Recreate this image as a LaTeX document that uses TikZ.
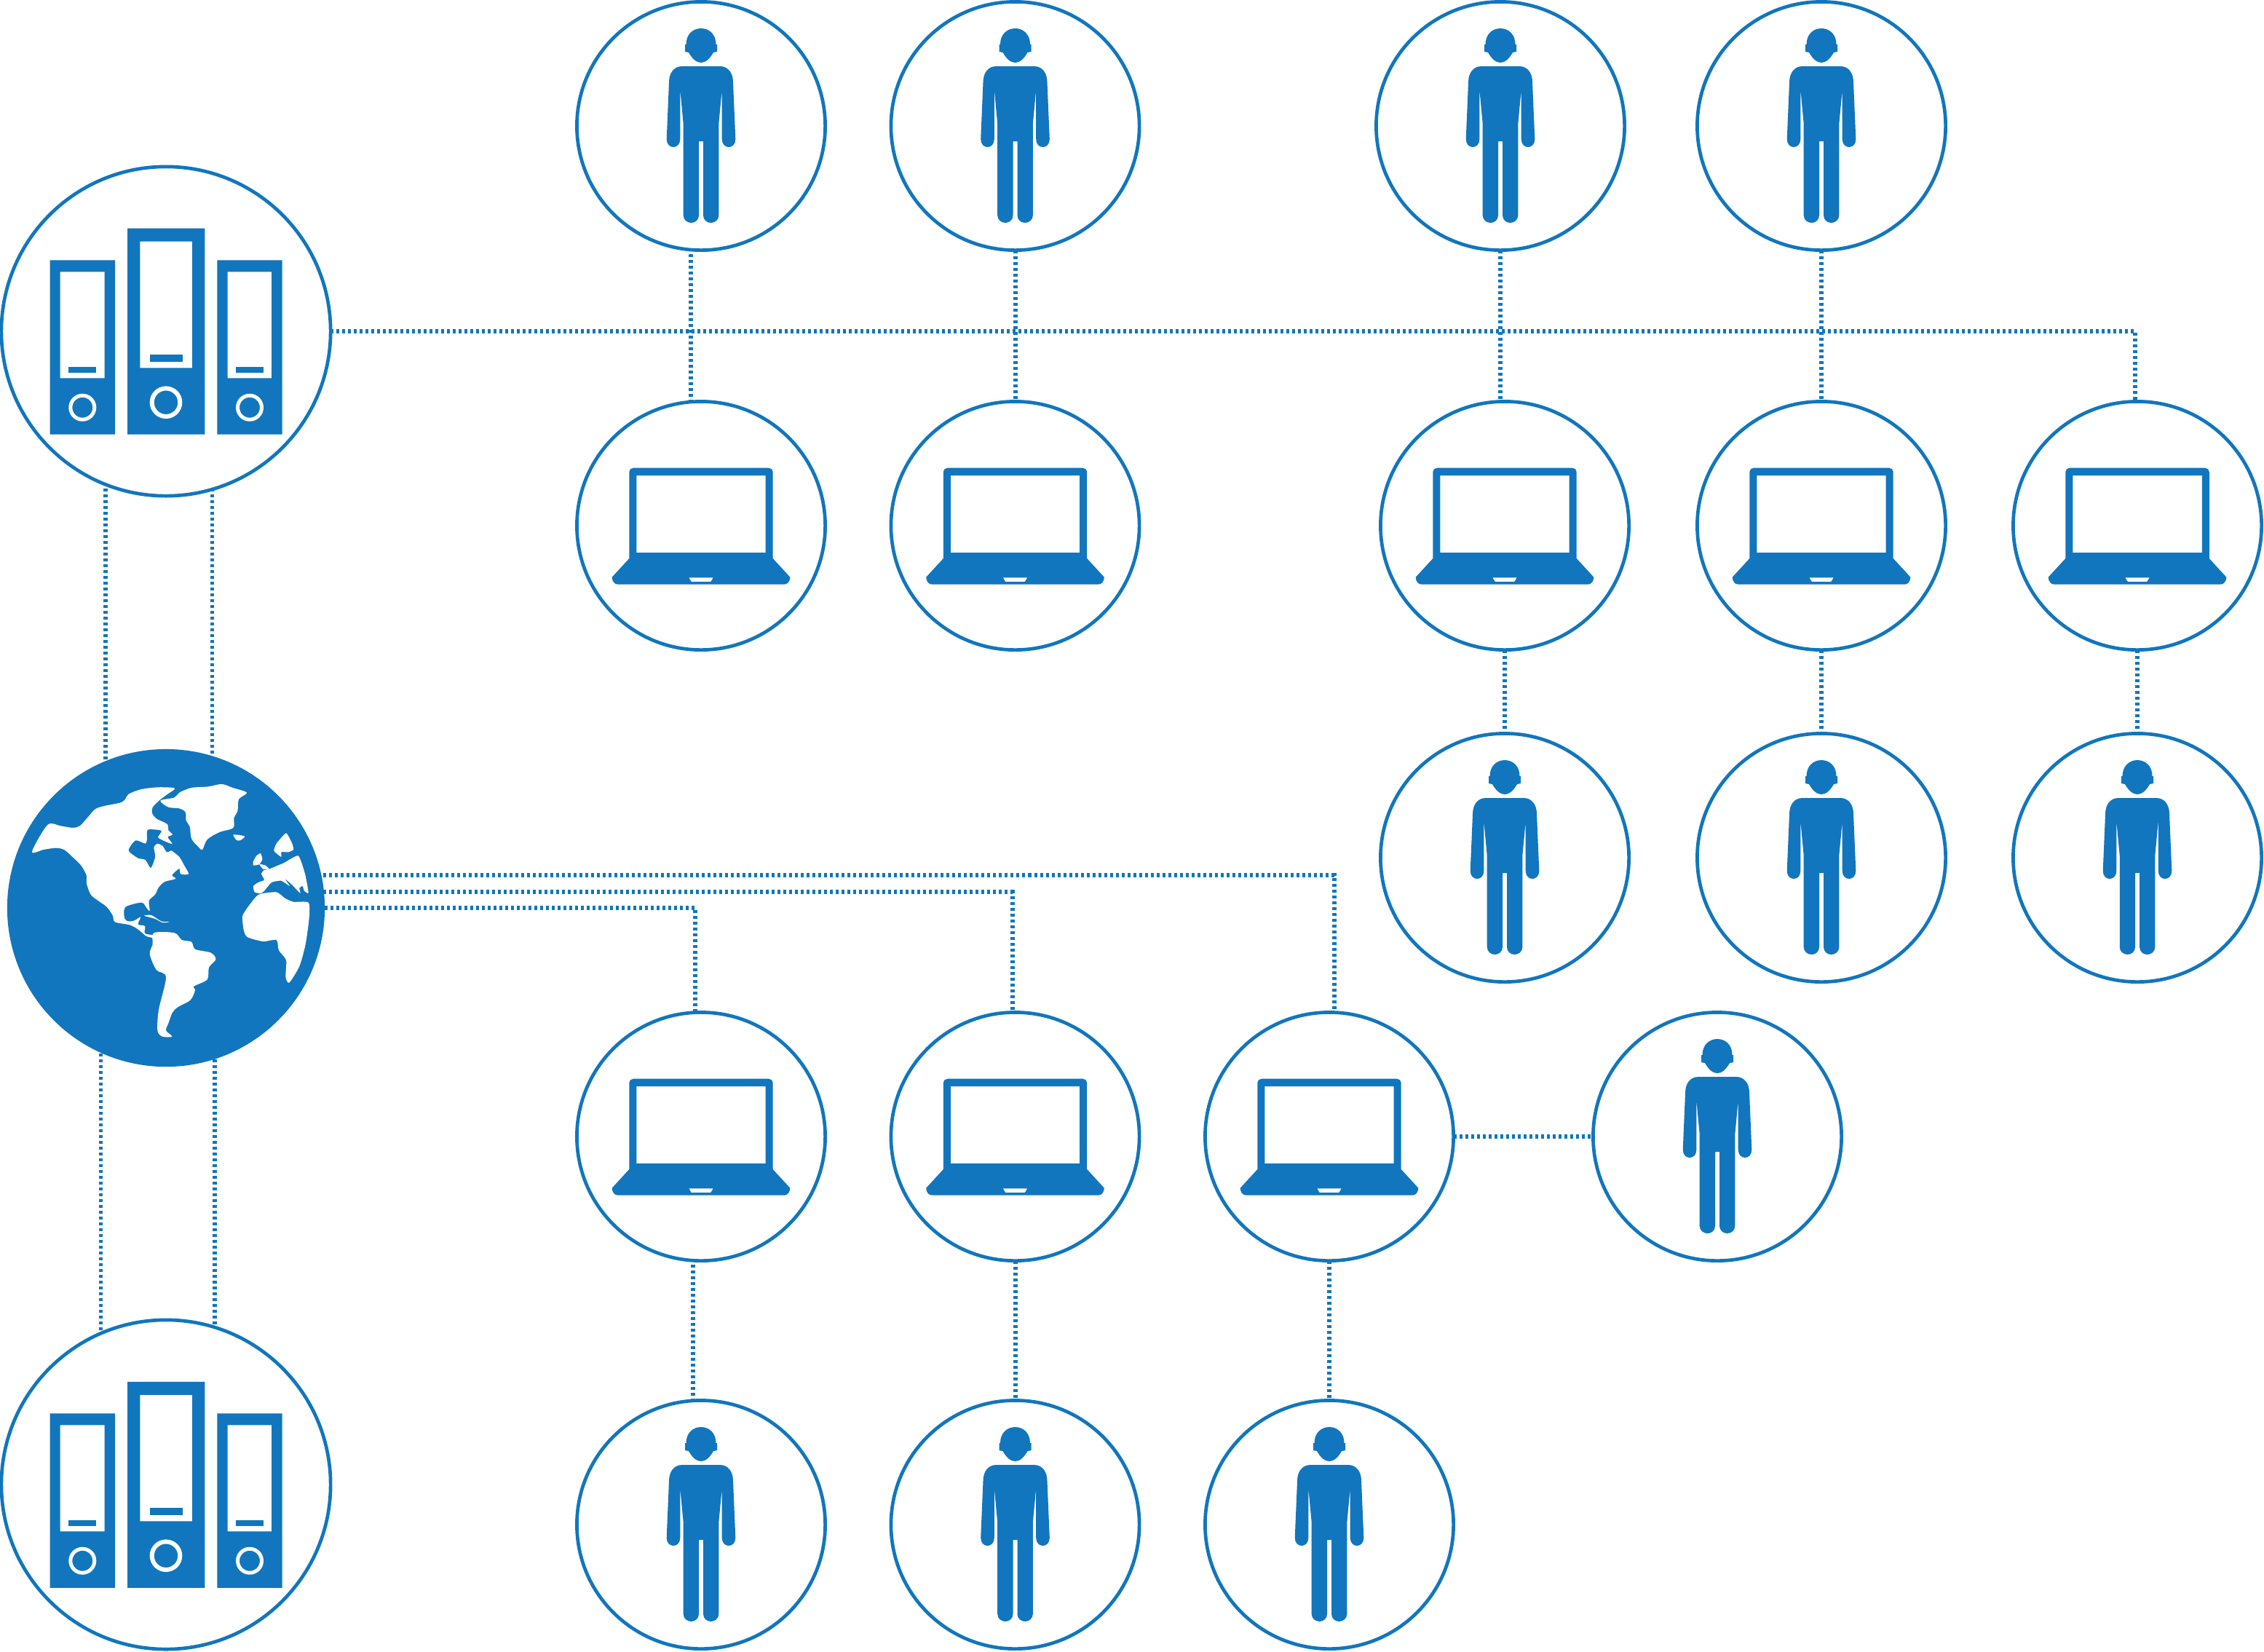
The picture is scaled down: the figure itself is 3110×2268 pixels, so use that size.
\documentclass[tikz,border=0pt]{standalone}
\usetikzlibrary{calc, backgrounds}
\definecolor{azul}{RGB}{17,118,189}
\tikzset{
	ring/.style={circle, draw=azul, line width=0.047cm, inner sep=0pt, outer sep=0pt, minimum size=3.41cm, fill=white},
	bigring/.style={ring, minimum size=4.52cm},
	globeball/.style={circle, fill=azul, inner sep=0pt, outer sep=0pt, minimum size=4.36cm},
	link/.style={draw=azul, line width=0.06cm, dash pattern=on 0.04cm off 0.04cm},
	thinlink/.style={link, line width=0.05cm},
	person/.pic={
		% Cabeza
		\fill[azul] (-20.5,-112) .. controls (-20.5,-126) and (-11,-134) .. (0,-134)
			.. controls (11,-134) and (20.5,-126) .. (20.5,-112) -- (22,-112) -- (22,-102) -- (17,-101)
			.. controls (12,-92) and (6,-87) .. (0,-87) .. controls (-6,-87) and (-12,-92) .. (-17,-101)
			-- (-22,-102) -- (-22,-112) -- cycle;
		% Cuerpo
		\fill[azul] (-26,-82) -- (26,-82) .. controls (37,-82) and (44,-73) .. (44,-60)
			-- (47.3,18) .. controls (47.3,25) and (43,29) .. (38,29) .. controls (33,29) and (28.7,25) .. (28.7,18)
			-- (28.7,-50) -- (24.3,-3) -- (24.3,122.7) .. controls (24.3,129) and (19,133) .. (13.5,133)
			.. controls (8,133) and (3,129) .. (3,122.7) -- (3,21) -- (-3,21) -- (-3,122.7)
			.. controls (-3,129) and (-8,133) .. (-13.5,133) .. controls (-19,133) and (-24.3,129) .. (-24.3,122.7)
			-- (-24.3,-3) -- (-28.7,-50) -- (-28.7,18) .. controls (-28.7,25) and (-33,29) .. (-38,29)
			.. controls (-43,29) and (-47.3,25) .. (-47.3,18) -- (-44,-60) .. controls (-44,-73) and (-37,-82) .. (-26,-82) -- cycle;
	},
	laptop/.pic={
		% Tapa y base
		\fill[azul, even odd rule] (-98.7,45) -- (-98.7,-74) .. controls (-98.7,-77) and (-96,-79.3) .. (-93,-79.3)
			-- (93,-79.3) .. controls (96,-79.3) and (98.7,-77) .. (98.7,-74) -- (98.7,45) -- (122.3,70.7)
			.. controls (122.3,76) and (119,80.7) .. (114,80.7) -- (-114,80.7) .. controls (-119,80.7) and (-122.3,76) .. (-122.3,70.7) -- cycle
			(-88.7,-69) rectangle (88.7,37)
			(-16.7,71.3) -- (16.7,71.3) -- (14,76) -- (13,77) -- (-13,77) -- (-14,76) -- cycle;
	},
	binders/.pic={
		% Carpeta izquierda
		\fill[azul, even odd rule] (-159.3,-97.7) rectangle (-70,141.7) (-145.3,-81.7) rectangle (-84.3,64.3);
		\fill[azul] (-133.7,49.3) rectangle (-95.7,57);
		\draw[white, line width=0.05cm] (-114.7,104.7) circle[radius=16.5];
		% Carpeta central
		\fill[azul, even odd rule] (-53,-141.3) rectangle (53.3,141.7) (-35.7,-123.3) rectangle (36,50.3);
		\fill[azul] (-22.3,32.3) rectangle (22.7,41.7);
		\draw[white, line width=0.06cm] (0,97.7) circle[radius=19.3];
		% Carpeta derecha
		\fill[azul, even odd rule] (70.3,-97.7) rectangle (159.7,141.7) (84.7,-81.7) rectangle (145,64.3);
		\fill[azul] (96,49.3) rectangle (134,57);
		\draw[white, line width=0.05cm] (115,104.7) circle[radius=16.5];
	},
	continents/.pic={
		\begin{scope}[shift={(-228.3,-226.7)}, scale=1/3]
			% America del norte
			\fill[white] plot[smooth cycle, tension=0.5] coordinates {(133,448) (197,338) (250,342) (300,350) (330,342) (360,310) (395,272) (440,258) (495,247) (515,235) (530,212) (580,192) (650,183) (715,185) (718,193) (690,212) (660,235) (630,265) (628,290) (645,312) (690,335) (695,360) (712,378) (692,388) (710,415) (705,440) (712,447) (740,470) (760,505) (778,540) (745,540) (740,518) (710,545) (725,560) (680,572) (655,595) (640,625) (615,650) (618,692) (605,680) (585,658) (525,672) (512,690) (515,725) (530,735) (555,732) (580,718) (570,748) (598,755) (598,785) (635,793) (640,805) (605,797) (590,785) (565,765) (535,750) (475,738) (465,710) (440,675) (405,650) (375,625) (358,580) (357,545) (335,505) (300,470) (265,440) (230,433) (180,440)};
			\fill[azul] plot[smooth cycle, tension=0.4] coordinates {(610,358) (666,362) (652,390) (690,410) (714,420) (710,440) (688,450) (672,425) (650,415) (635,430) (640,470) (622,515) (600,482) (570,475) (535,450) (533,435) (560,402) (600,415) (607,395)};
			% Groenlandia e Islandia
			\fill[white] plot[smooth cycle, tension=0.5] coordinates {(662,238) (720,225) (740,205) (790,185) (860,180) (915,170) (960,185) (1018,205) (985,232) (980,280) (965,310) (962,350) (905,368) (855,398) (835,440) (820,430) (790,395) (783,345) (768,320) (765,285) (740,270) (695,265)};
			\fill[white] plot[smooth cycle, tension=0.4] coordinates {(963,378) (1010,385) (990,402) (975,400)};
			% America del sur
			\fill[white] plot[smooth cycle, tension=0.5] coordinates {(635,783) (720,783) (750,812) (790,820) (805,850) (870,865) (890,892) (862,925) (855,975) (800,1003) (805,1020) (785,1060) (735,1088) (712,1110) (695,1155) (685,1185) (710,1210) (670,1210) (650,1185) (655,1100) (685,965) (645,935) (618,870) (630,830)};
			\fill[white] plot[smooth cycle, tension=0.4] coordinates {(595,712) (625,710) (665,735) (700,738) (670,740) (640,725)};
			% Africa
			\fill[white] plot[smooth cycle, tension=0.4] coordinates {(1075,622) (1140,615) (1175,640) (1210,655) (1272,658) (1275,720) (1260,830) (1235,920) (1193,988) (1178,965) (1180,895) (1150,855) (1140,812) (1085,818) (1020,800) (1005,770) (1000,715) (1020,680) (1055,635)};
			% Europa
			\fill[white] plot[smooth cycle, tension=0.3] coordinates {(1180,372) (1205,415) (1210,440) (1190,450) (1160,450) (1160,470) (1130,445) (1140,415)};
			\fill[white] plot[smooth cycle, tension=0.3] coordinates {(1110,520) (1170,495) (1230,465) (1258,540) (1272,618) (1255,610) (1248,590) (1235,598) (1238,620) (1205,585) (1175,560) (1195,590) (1160,568) (1120,575) (1090,610) (1075,620) (1050,615) (1045,590) (1065,575) (1090,565) (1078,540) (1088,525)};
			\fill[white] plot[smooth cycle, tension=0.3] coordinates {(1075,455) (1082,480) (1070,500) (1045,505) (1045,488) (1058,465)};
			\fill[white] plot[smooth cycle, tension=0.3] coordinates {(1070,500) (1095,505) (1110,520) (1085,520)};
		\end{scope}
	}
}
\begin{document}
\begin{tikzpicture}[x=0.01cm, y=-0.01cm]
	\useasboundingbox (0,0) rectangle (3110,2268);
	% Servidores y globo
	\node[bigring] (srvtop) at (228,455) {};
	\node[bigring] (srvbot) at (228,2039) {};
	\node[globeball] (globe) at (228,1247) {};
	\pic at (srvtop) {binders};
	\pic at (srvbot) {binders};
	\pic at (globe) {continents};
	% Fila superior
	\node[ring] (person1) at (963,173) {};
	\node[ring] (person2) at (1394.5,173) {};
	\node[ring] (person3) at (2061,173) {};
	\node[ring] (person4) at (2502,173) {};
	\node[ring] (laptop1) at (963,722) {};
	\node[ring] (laptop2) at (1394.5,722) {};
	\node[ring] (laptop3) at (2067,722) {};
	\node[ring] (laptop4) at (2502,722) {};
	\node[ring] (laptop5) at (2936,722) {};
	\node[ring] (person5) at (2067,1178) {};
	\node[ring] (person6) at (2502,1178) {};
	\node[ring] (person7) at (2936,1178) {};
	% Fila inferior
	\node[ring] (laptop6) at (963,1561) {};
	\node[ring] (laptop7) at (1394.5,1561) {};
	\node[ring] (laptop8) at (1826,1561) {};
	\node[ring] (person8) at (2359,1561) {};
	\node[ring] (person9) at (963,2094) {};
	\node[ring] (person10) at (1394.5,2094) {};
	\node[ring] (person11) at (1826,2094) {};
	% Iconos
	\pic at (person1) {person};
	\pic at (person2) {person};
	\pic at (person3) {person};
	\pic at (person4) {person};
	\pic at (person5) {person};
	\pic at (person6) {person};
	\pic at (person7) {person};
	\pic at (person8) {person};
	\pic at (person9) {person};
	\pic at (person10) {person};
	\pic at (person11) {person};
	\pic at (laptop1) {laptop};
	\pic at (laptop2) {laptop};
	\pic at (laptop3) {laptop};
	\pic at (laptop4) {laptop};
	\pic at (laptop5) {laptop};
	\pic at (laptop6) {laptop};
	\pic at (laptop7) {laptop};
	\pic at (laptop8) {laptop};
	% Enlaces, por debajo de los circulos
	\begin{scope}[on background layer]
		\draw[link] (srvtop) -| ($(laptop5)+(-3,0)$);
		\draw[link] ($(person1)+(-14,0)$) -- ($(laptop1)+(-14,0)$);
		\draw[link] (person2) -- (laptop2);
		\draw[link] (person3) -- ($(laptop3)+(-6,0)$);
		\draw[link] (person4) -- (laptop4);
		\draw[link] (laptop3) -- (person5);
		\draw[link] (laptop4) -- (person6);
		\draw[link] (laptop5) -- (person7);
		\draw[link] ($(srvtop)+(-83,0)$) -- ($(globe)+(-83,0)$);
		\draw[thinlink] ($(srvtop)+(63,0)$) -- ($(globe)+(63,0)$);
		\draw[thinlink] ($(globe)+(-89.5,0)$) -- ($(srvbot)+(-89.5,0)$);
		\draw[link] ($(globe)+(67,0)$) -- ($(srvbot)+(67,0)$);
		\draw[link] ($(globe)+(0,-45)$) -| ($(laptop8)+(6.5,0)$);
		\draw[link] ($(globe)+(0,-22)$) -| ($(laptop7)+(-3.5,0)$);
		\draw[link] (globe) -| ($(laptop6)+(-8,0)$);
		\draw[link] ($(laptop6)+(-11,0)$) -- ($(person9)+(-11,0)$);
		\draw[link] (laptop7) -- (person10);
		\draw[link] (laptop8) -- (person11);
		\draw[link] (laptop8) -- (person8);
	\end{scope}
\end{tikzpicture}
\end{document}
